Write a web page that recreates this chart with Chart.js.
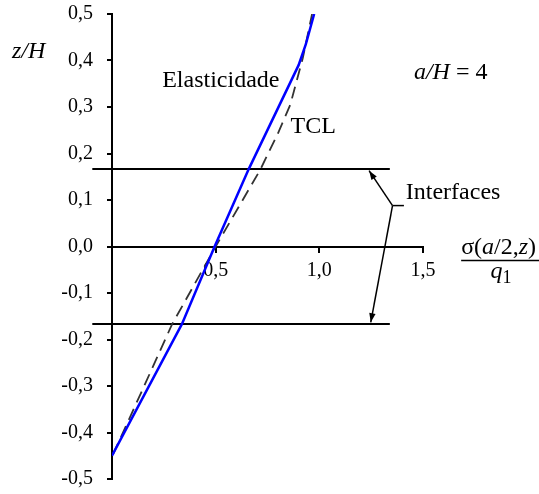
<!DOCTYPE html>
<html>
<head>
<meta charset="utf-8">
<script src="https://cdn.jsdelivr.net/npm/chart.js@4.4.1/dist/chart.umd.min.js"></script>
<style>
html,body{margin:0;padding:0;background:#fff}
#wrap{width:539px;height:494px;position:relative}
</style>
</head>
<body>
<div id="wrap"><canvas id="c"></canvas></div>
<script>
// values (x = sigma(a/2,z)/q1, z = z/H)
const elasX = [0, 0.337, 0.495, 0.66, 0.90, 0.935, 0.975];
const elasZ = [-0.45, -0.167, 0, 0.167, 0.39, 0.435, 0.5];
const tclX  = [0.005, 0.145, 0.29, 0.50, 0.715, 0.80, 0.86, 0.89, 0.92, 0.965];
const tclZ  = [-0.447, -0.31, -0.167, 0, 0.165, 0.243, 0.305, 0.355, 0.405, 0.5];
const interfaceZ = [1/6, -1/6];
const interfaceSpan = [-0.095, 1.34];

const yTicks = [-0.5, -0.4, -0.3, -0.2, -0.1, 0, 0.1, 0.2, 0.3, 0.4, 0.5];
const yTickLabels = ['-0,5','-0,4','-0,3','-0,2','-0,1','0,0','0,1','0,2','0,3','0,4','0,5'];
const xTicks = [0, 0.5, 1.0, 1.5];
const xTickLabels = ['', '0,5', '1,0', '1,5'];

const SERIF = '"Liberation Serif", "Times New Roman", serif';
const pts = (xs, zs) => xs.map((x, i) => ({x, y: zs[i]}));

const datasets = [
  {data: pts(elasX, elasZ), borderColor:'#0000ff', borderWidth:2.5, pointRadius:0, showLine:true, tension:0},
  {data: pts(tclX, tclZ), borderColor:'#333', borderWidth:1.8, borderDash:[12,7], pointRadius:0, showLine:true, tension:0},
];
interfaceZ.forEach(z => datasets.push({
  data: pts(interfaceSpan, [z, z]), borderColor:'#000', borderWidth:2, pointRadius:0, showLine:true, clip:false
}));

// text pieces: [string, italic, sizeScale, dy]
function drawParts(ctx, parts, px, py, size) {
  let x = px;
  parts.forEach(([s, it, sc = 1, dy = 0]) => {
    ctx.font = (it ? 'italic ' : '') + Math.round(size * sc) + 'px ' + SERIF;
    ctx.fillText(s, x, py + dy);
    x += ctx.measureText(s).width;
  });
  return x - px;
}
function arrow(ctx, x1, y1, x2, y2) {
  ctx.beginPath(); ctx.moveTo(x1, y1); ctx.lineTo(x2, y2); ctx.stroke();
  const a = Math.atan2(y2 - y1, x2 - x1), L = 9, W = 3.2;
  ctx.beginPath();
  ctx.moveTo(x2, y2);
  ctx.lineTo(x2 - L*Math.cos(a) + W*Math.sin(a), y2 - L*Math.sin(a) - W*Math.cos(a));
  ctx.lineTo(x2 - L*Math.cos(a) - W*Math.sin(a), y2 - L*Math.sin(a) + W*Math.cos(a));
  ctx.closePath(); ctx.fill();
}

const notes = {
  id: 'notes',
  afterDatasetsDraw(chart) {
    const {ctx, scales:{x, y}} = chart;
    const X = v => x.getPixelForValue(v), Y = v => y.getPixelForValue(v);
    ctx.save();
    ctx.fillStyle = '#000'; ctx.strokeStyle = '#000'; ctx.lineWidth = 1.5;
    ctx.textBaseline = 'alphabetic'; ctx.textAlign = 'left';
    drawParts(ctx, [['z/H', true]], 12, Y(0.406), 24);
    drawParts(ctx, [['Elasticidade', false]], X(0.242), Y(0.342), 24);
    drawParts(ctx, [['TCL', false]], X(0.861), Y(0.245), 24);
    drawParts(ctx, [['a/H', true], [' = 4', false]], X(1.456), Y(0.361), 24);
    drawParts(ctx, [['Interfaces', false]], X(1.417), Y(0.103), 24);
    // axis title as a fraction
    const fx = X(1.684);
    const w = drawParts(ctx, [['σ(', false], ['a', true], ['/2,', false], ['z', true], [')', false]], fx, Y(-0.017), 24);
    ctx.beginPath(); ctx.moveTo(fx, Y(-0.030)); ctx.lineTo(fx + w + 6, Y(-0.030)); ctx.stroke();
    drawParts(ctx, [['q', true], ['1', false, 0.75, 5]], X(1.826), Y(-0.068), 24);
    // interface arrows
    const jx = X(1.353), jy = Y(0.088);
    ctx.beginPath(); ctx.moveTo(jx, jy); ctx.lineTo(X(1.408), jy); ctx.stroke();
    arrow(ctx, jx, jy, X(1.24), Y(0.163));
    arrow(ctx, jx, jy, X(1.248), Y(-0.163));
    ctx.restore();
  }
};

new Chart(document.getElementById('c'), {
  type: 'scatter',
  data: {datasets},
  options: {
    responsive:true, maintainAspectRatio:false, animation:false,
    layout:{padding:{left:0, top:14, right:116, bottom:15}},
    plugins:{legend:{display:false}, tooltip:{enabled:false}},
    scales:{
      x:{
        type:'linear', min:0, max:1.5, position:{y:0},
        afterBuildTicks: s => { s.ticks = xTicks.map(v => ({value:v})); },
        ticks:{color:'#000', padding:7, font:{family:SERIF, size:20}, maxRotation:0,
               callback:(v, i) => xTickLabels[i]},
        grid:{drawOnChartArea:false, drawTicks:true, tickLength:5, color:'#000', lineWidth:2},
        border:{display:true, color:'#000', width:2}
      },
      y:{
        type:'linear', min:-0.5, max:0.5, position:'left',
        afterBuildTicks: s => { s.ticks = yTicks.map(v => ({value:v})); },
        afterFit: s => { s.width = 112; s.paddingTop = 0; s.paddingBottom = 0; },
        ticks:{color:'#000', padding:14, font:{family:SERIF, size:20},
               callback:(v, i) => yTickLabels[i]},
        grid:{drawOnChartArea:false, drawTicks:true, tickLength:5, color:'#000', lineWidth:2},
        border:{display:true, color:'#000', width:2}
      }
    }
  },
  plugins:[notes]
});
</script>
</body>
</html>
